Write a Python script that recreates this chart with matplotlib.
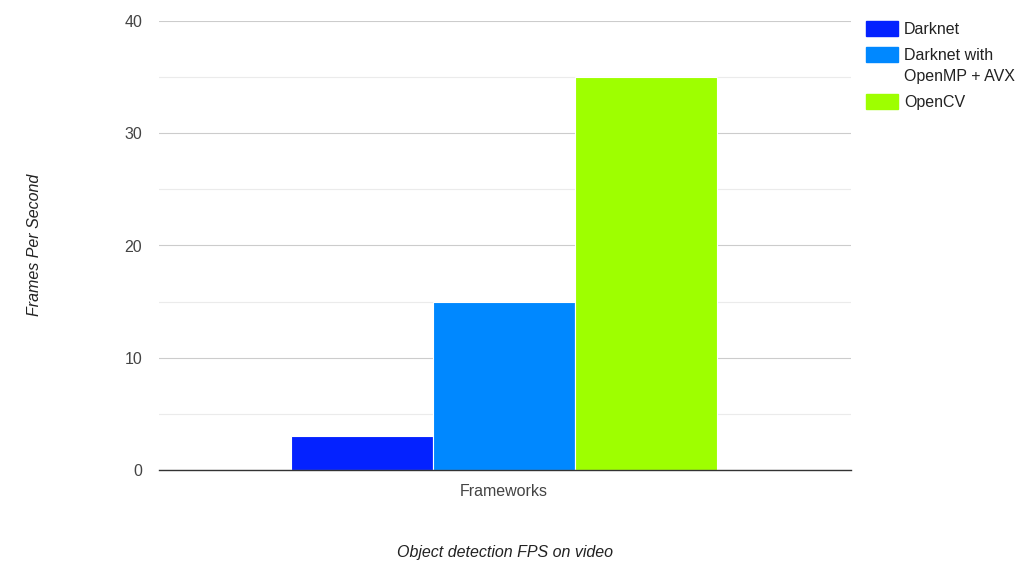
import numpy as np
import matplotlib
matplotlib.use("Agg")
import matplotlib.pyplot as plt
from matplotlib.patches import Rectangle

plt.rcParams["font.family"] = ["Liberation Sans", "DejaVu Sans"]

categories = ["Frameworks"]
series_names = ["Darknet", "Darknet with\nOpenMP + AVX", "OpenCV"]
series_values = [3, 15, 35]
series_colors = ["#0422ff", "#0088ff", "#9eff00"]
y_ticks = [0, 10, 20, 30, 40]

W, H = 1024, 570
fig = plt.figure(figsize=(W / 100, H / 100), dpi=100)
ax = fig.add_axes([159 / W, 1 - 470 / H, 692 / W, 449 / H])

offsets = np.arange(len(series_values)) - (len(series_values) - 1) / 2
for off, val, name, col in zip(offsets, series_values, series_names, series_colors):
    ax.bar(off, val, width=1.0, color=col, edgecolor="white", linewidth=0.8, label=name, zorder=3)

half = (692 / 142) / 2
shift = 1 / 142
ax.set_xlim(-half + shift, half + shift)
ax.set_ylim(0, 40)
ax.set_yticks(y_ticks)
ax.set_yticks([5, 15, 25, 35], minor=True)
ax.set_xticks([0])
ax.set_xticklabels(categories)
ax.tick_params(axis="both", which="both", length=0, labelsize=11.5, colors="#444444")
ax.tick_params(axis="y", pad=12)
ax.tick_params(axis="x", pad=10)
ax.grid(axis="y", which="major", color="#cccccc", linewidth=0.8, zorder=0)
ax.grid(axis="y", which="minor", color="#ebebeb", linewidth=0.8, zorder=0)
for s in ["top", "right", "left"]:
    ax.spines[s].set_visible(False)
ax.spines["bottom"].set_color("#333333")
ax.spines["bottom"].set_linewidth(1.0)
ax.spines["bottom"].set_zorder(4)

fig.text(35 / W, 1 - 245 / H, "Frames Per Second", rotation=90, style="italic",
         fontsize=11.5, color="#222222", ha="center", va="center")
fig.text(505 / W, 1 - 552 / H, "Object detection FPS on video", style="italic",
         fontsize=11.5, color="#222222", ha="center", va="center")

# legend drawn by hand so the two-line entry lines up like the original
legend_tops = [21, 47, 94]
for top, name, col in zip(legend_tops, series_names, series_colors):
    fig.patches.append(Rectangle((866 / W, 1 - (top + 15) / H), 32 / W, 15 / H,
                                 transform=fig.transFigure, color=col))
    for k, line in enumerate(name.split("\n")):
        fig.text(904 / W, 1 - (top + 9 + 20.5 * k) / H, line, fontsize=11.5,
                 color="#222222", ha="left", va="center")

fig.savefig("out.png", dpi=100)
